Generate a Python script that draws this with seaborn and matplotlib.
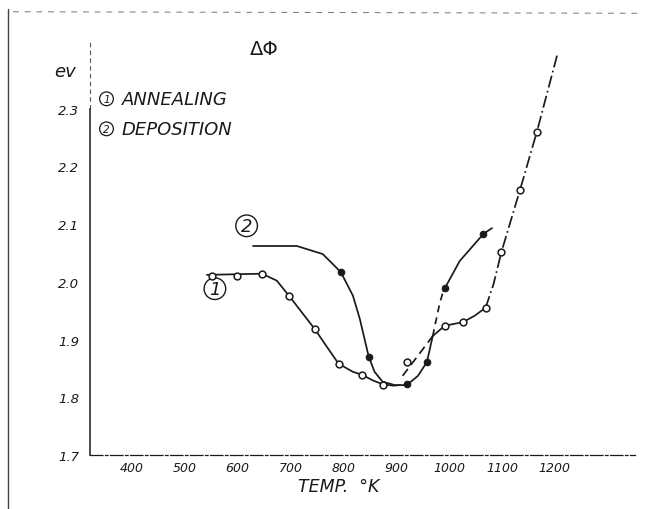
import matplotlib
matplotlib.use("Agg")
import matplotlib.pyplot as plt
from matplotlib.lines import Line2D
import seaborn as sns
import pandas as pd

# ---- data ----
# Curve 1 (annealing) traced path, split by drawn line style
ann_solid1_T = [542, 646, 674, 697, 724, 746, 769, 791, 818, 835, 856, 876, 895, 907]
ann_solid1_v = [2.012, 2.014, 2.002, 1.976, 1.944, 1.918, 1.887, 1.858, 1.844, 1.839, 1.829, 1.822, 1.820, 1.821]
ann_dash_T = [912, 941, 969]
ann_dash_v = [1.837, 1.872, 1.906]
ann_solid2_T = [969, 992, 1026, 1048, 1069]
ann_solid2_v = [1.906, 1.924, 1.930, 1.941, 1.955]
ann_dashdot_T = [1069, 1084, 1099, 1134, 1166, 1205]
ann_dashdot_v = [1.955, 1.996, 2.052, 2.159, 2.260, 2.395]

# Curve 2 (deposition) traced path
dep_solid1_T = [629, 712, 761, 795, 818, 831, 840, 848, 859, 874, 897, 920, 941, 958, 969]
dep_solid1_v = [2.062, 2.062, 2.048, 2.017, 1.976, 1.936, 1.901, 1.870, 1.844, 1.827, 1.821, 1.821, 1.837, 1.861, 1.906]
dep_dash_T = [969, 982, 989]
dep_dash_v = [1.906, 1.962, 1.984]
dep_solid2_T = [989, 992, 1020, 1065, 1081]
dep_solid2_v = [1.984, 1.989, 2.036, 2.083, 2.093]

# measured points
ann_pts_T = [551, 598, 646, 697, 746, 791, 835, 874, 920, 992, 1026, 1069, 1099, 1134, 1166]
ann_pts_v = [2.010, 2.010, 2.014, 1.976, 1.918, 1.858, 1.839, 1.821, 1.861, 1.924, 1.930, 1.955, 2.052, 2.159, 2.260]
dep_pts_T = [795, 848, 920, 958, 992, 1064]
dep_pts_v = [2.017, 1.870, 1.823, 1.861, 1.989, 2.083]

x_ticks = [400, 500, 600, 700, 800, 900, 1000, 1100, 1200]
x_ticklabels = ["400", "500", "600", "700", "800", "900", "1000", "1100", "1200"]
y_ticks = [1.7, 1.8, 1.9, 2.0, 2.1, 2.2, 2.3]
y_ticklabels = ["1.7", "1.8", "1.9", "2.0", "2.1", "2.2", "2.3"]

# ---- plotting ----
sns.set_theme(style="white")
plt.rcParams["font.family"] = ["DejaVu Sans"]

fig = plt.figure(figsize=(6.53, 5.10), dpi=100)
ax = fig.add_axes([0.138, 0.106, 0.834, 0.816])

ink = "#1a1a1a"
segments = [
    (ann_solid1_T, ann_solid1_v, "-"),
    (ann_dash_T, ann_dash_v, (0, (5, 3))),
    (ann_solid2_T, ann_solid2_v, "-"),
    (ann_dashdot_T, ann_dashdot_v, (0, (7, 2, 1, 2))),
    (dep_solid1_T, dep_solid1_v, "-"),
    (dep_dash_T, dep_dash_v, (0, (4, 3))),
    (dep_solid2_T, dep_solid2_v, "-"),
]
for T, v, ls in segments:
    df = pd.DataFrame({"T": T, "v": v})
    sns.lineplot(data=df, x="T", y="v", sort=False, estimator=None, ax=ax,
                 color=ink, linewidth=1.25, linestyle=ls)

sns.scatterplot(x=ann_pts_T, y=ann_pts_v, ax=ax, marker="o", s=24,
                facecolor="white", edgecolor=ink, linewidth=1.1, zorder=5)
sns.scatterplot(x=dep_pts_T, y=dep_pts_v, ax=ax, marker="o", s=22,
                color=ink, edgecolor=ink, linewidth=0.8, zorder=5)

ax.set_xlim(321, 1351)
ax.set_ylim(1.7, 2.421)
ax.set_xticks(x_ticks)
ax.set_xticklabels(x_ticklabels, fontsize=9, fontstyle="italic")
ax.set_yticks(y_ticks)
ax.set_yticklabels(y_ticklabels, fontsize=9.5, fontstyle="italic")
ax.tick_params(axis="x", direction="inout", length=5, width=0.8, pad=2, colors=ink)
ax.tick_params(axis="y", length=0, pad=8, colors=ink)
ax.set_xlabel("")
ax.set_ylabel("")

for s in ["top", "right"]:
    ax.spines[s].set_visible(False)
ax.spines["left"].set_color(ink)
ax.spines["left"].set_linewidth(1.1)
ax.spines["left"].set_bounds(1.7, 2.30)
ax.plot([321, 321], [2.30, 2.421], color="#555555", lw=0.8,
        linestyle=(0, (4, 3)), clip_on=False)
ax.spines["bottom"].set_color(ink)
ax.spines["bottom"].set_linewidth(0.9)
ax.spines["bottom"].set_linestyle((0, (10, 2, 2, 2)))

txt = dict(color=ink, fontstyle="italic", clip_on=False)
ax.text(273, 2.366, "ev", fontsize=13, ha="center", va="center", **txt)
ax.text(651, 2.405, "ΔΦ", fontsize=14, ha="center", va="center",
        color=ink, clip_on=False)
circ = dict(boxstyle="circle,pad=0.18", fc="none", ec=ink, lw=0.9)
ax.text(352, 2.317, "1", fontsize=7.5, ha="center", va="center", bbox=circ, **txt)
ax.text(381, 2.317, "ANNEALING", fontsize=13, ha="left", va="center", **txt)
ax.text(352, 2.265, "2", fontsize=7.5, ha="center", va="center", bbox=circ, **txt)
ax.text(381, 2.265, "DEPOSITION", fontsize=13, ha="left", va="center", **txt)
ax.text(617, 2.097, "2", fontsize=13, ha="center", va="center",
        bbox=dict(boxstyle="circle,pad=0.1", fc="none", ec=ink, lw=1.0), **txt)
ax.text(557, 1.988, "1", fontsize=13, ha="center", va="center",
        bbox=dict(boxstyle="circle,pad=0.1", fc="none", ec=ink, lw=1.0), **txt)

fig.text(0.518, 0.046, "TEMP.  °K", fontsize=12.5, fontstyle="italic",
         ha="center", va="center", color=ink)

# scan frame remnants
fig.add_artist(Line2D([0.02, 0.98], [0.975, 0.972], transform=fig.transFigure,
                      color="#777777", lw=0.7, linestyle=(0, (6, 6))))
fig.add_artist(Line2D([0.012, 0.012], [0.0, 0.98], transform=fig.transFigure,
                      color="#444444", lw=1.0))

fig.savefig("out.png", dpi=100, facecolor="white")
